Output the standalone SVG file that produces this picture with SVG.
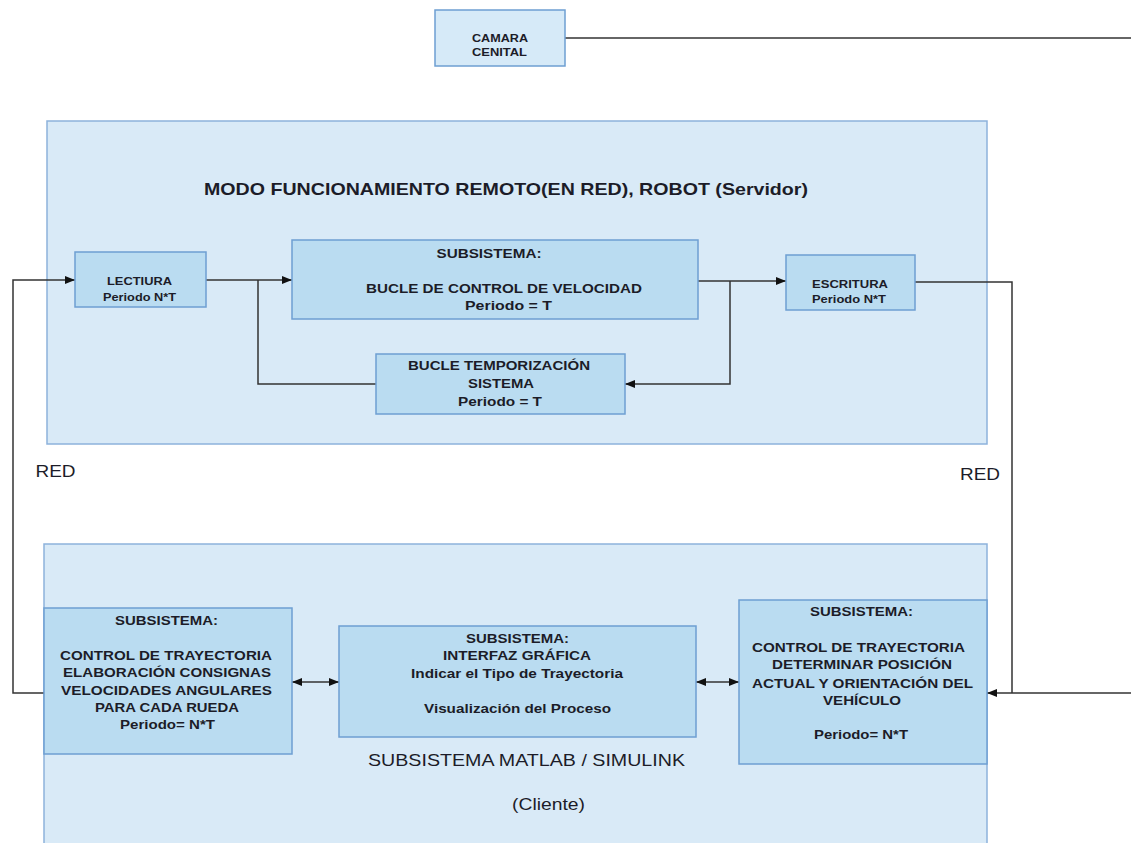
<svg xmlns="http://www.w3.org/2000/svg" width="1131" height="843" viewBox="0 0 1131 843">
  <style>
    .container { fill: #d9eaf7; stroke: #8db2dc; stroke-width: 1.5; }
    .box { fill: #badcf1; stroke: #6e9fd2; stroke-width: 1.5; }
    .t { font-family: "Liberation Sans", Arial, sans-serif; fill: #1c1c28; text-anchor: middle; }
    .b { font-weight: bold; }
    .wire { fill: none; stroke: #333; stroke-width: 1.5; }
  </style>
  <defs>
    <marker id="arrow" viewBox="0 0 10 10" refX="10" refY="5" markerWidth="10" markerHeight="10" markerUnits="userSpaceOnUse" orient="auto-start-reverse">
      <path d="M0,1 L10,5 L0,9 Z" fill="#111"/>
    </marker>
  </defs>

  <rect width="1131" height="843" fill="#ffffff"/>

  <!-- containers -->
  <g id="servidor">
    <rect class="container" x="47" y="121" width="940" height="323"/>
    <text class="t b" x="506" y="195" font-size="16.5" textLength="604" lengthAdjust="spacingAndGlyphs">MODO FUNCIONAMIENTO REMOTO(EN RED), ROBOT (Servidor)</text>
  </g>
  <g id="cliente">
    <rect class="container" x="44" y="544" width="943" height="310"/>
    <text class="t" x="526.5" y="766" font-size="16.5" textLength="317" lengthAdjust="spacingAndGlyphs">SUBSISTEMA MATLAB / SIMULINK</text>
    <text class="t" x="548.5" y="810" font-size="16.5" textLength="73" lengthAdjust="spacingAndGlyphs">(Cliente)</text>
  </g>

  <!-- connectors -->
  <g id="connectors">
    <path class="wire" d="M565,38 H1131"/>
    <path class="wire" d="M44,693 H13 V280 H75" marker-end="url(#arrow)"/>
    <path class="wire" d="M206,280 H292" marker-end="url(#arrow)"/>
    <path class="wire" d="M258,280 V384 H376"/>
    <path class="wire" d="M698,281 H786" marker-end="url(#arrow)"/>
    <path class="wire" d="M730,281 V384 H625" marker-end="url(#arrow)"/>
    <path class="wire" d="M915,282 H1012 V693"/>
    <path class="wire" d="M1131,693 H987" marker-end="url(#arrow)"/>
    <path class="wire" d="M292,682 H339" marker-start="url(#arrow)" marker-end="url(#arrow)"/>
    <path class="wire" d="M696,682 H739" marker-start="url(#arrow)" marker-end="url(#arrow)"/>
  </g>

  <!-- network labels -->
  <text class="t" x="55.5" y="477" font-size="16" textLength="40" lengthAdjust="spacingAndGlyphs">RED</text>
  <text class="t" x="980" y="480" font-size="16" textLength="40" lengthAdjust="spacingAndGlyphs">RED</text>

  <!-- nodes -->
  <g id="camara">
    <rect class="box" x="435" y="10" width="130" height="56" style="fill:#d6eaf8"/>
    <text class="t b" x="500" y="42" font-size="11.5" textLength="56" lengthAdjust="spacingAndGlyphs">CAMARA</text>
    <text class="t b" x="499.5" y="56" font-size="11.5" textLength="55" lengthAdjust="spacingAndGlyphs">CENITAL</text>
  </g>

  <g id="lectiura">
    <rect class="box" x="75" y="252" width="131" height="55"/>
    <text class="t b" x="139.5" y="285" font-size="11.5" textLength="65" lengthAdjust="spacingAndGlyphs">LECTIURA</text>
    <text class="t b" x="139.5" y="301" font-size="11.5" textLength="73" lengthAdjust="spacingAndGlyphs">Periodo N*T</text>
  </g>

  <g id="bucle-velocidad">
    <rect class="box" x="292" y="240" width="406" height="79"/>
    <text class="t b" x="489" y="258" font-size="13.5" textLength="105" lengthAdjust="spacingAndGlyphs">SUBSISTEMA:</text>
    <text class="t b" x="504" y="293" font-size="13.5" textLength="276" lengthAdjust="spacingAndGlyphs">BUCLE DE CONTROL DE VELOCIDAD</text>
    <text class="t b" x="508.5" y="310" font-size="13.5" textLength="87" lengthAdjust="spacingAndGlyphs">Periodo =  T</text>
  </g>

  <g id="escritura">
    <rect class="box" x="786" y="255" width="129" height="55"/>
    <text class="t b" x="850" y="288" font-size="11.5" textLength="76" lengthAdjust="spacingAndGlyphs">ESCRITURA</text>
    <text class="t b" x="849" y="303" font-size="11.5" textLength="74" lengthAdjust="spacingAndGlyphs">Periodo N*T</text>
  </g>

  <g id="bucle-temporizacion">
    <rect class="box" x="376" y="354" width="249" height="60"/>
    <text class="t b" x="499" y="370" font-size="13.5" textLength="182" lengthAdjust="spacingAndGlyphs">BUCLE TEMPORIZACIÓN</text>
    <text class="t b" x="501" y="388" font-size="13.5" textLength="66" lengthAdjust="spacingAndGlyphs">SISTEMA</text>
    <text class="t b" x="500" y="406" font-size="13.5" textLength="84" lengthAdjust="spacingAndGlyphs">Periodo = T</text>
  </g>

  <g id="control-consignas">
    <rect class="box" x="44" y="608" width="248" height="146"/>
    <text class="t b" x="166.5" y="625" font-size="13" textLength="103" lengthAdjust="spacingAndGlyphs">SUBSISTEMA:</text>
    <text class="t b" x="166" y="660" font-size="13" textLength="212" lengthAdjust="spacingAndGlyphs">CONTROL DE TRAYECTORIA</text>
    <text class="t b" x="167" y="677" font-size="13" textLength="208" lengthAdjust="spacingAndGlyphs">ELABORACIÓN CONSIGNAS</text>
    <text class="t b" x="166.5" y="695" font-size="13" textLength="211" lengthAdjust="spacingAndGlyphs">VELOCIDADES ANGULARES</text>
    <text class="t b" x="167" y="712" font-size="13" textLength="144" lengthAdjust="spacingAndGlyphs">PARA CADA RUEDA</text>
    <text class="t b" x="167.5" y="729" font-size="13" textLength="95" lengthAdjust="spacingAndGlyphs">Periodo= N*T</text>
  </g>

  <g id="interfaz">
    <rect class="box" x="339" y="626" width="357" height="111"/>
    <text class="t b" x="517.5" y="643" font-size="13" textLength="103" lengthAdjust="spacingAndGlyphs">SUBSISTEMA:</text>
    <text class="t b" x="517" y="660" font-size="13" textLength="148" lengthAdjust="spacingAndGlyphs">INTERFAZ GRÁFICA</text>
    <text class="t b" x="517" y="678" font-size="13" textLength="212" lengthAdjust="spacingAndGlyphs">Indicar el Tipo de Trayectoria</text>
    <text class="t b" x="517.5" y="713" font-size="13" textLength="187" lengthAdjust="spacingAndGlyphs">Visualización del Proceso</text>
  </g>

  <g id="control-posicion">
    <rect class="box" x="739" y="600" width="248" height="164"/>
    <text class="t b" x="861.5" y="616" font-size="13" textLength="103" lengthAdjust="spacingAndGlyphs">SUBSISTEMA:</text>
    <text class="t b" x="858.5" y="652" font-size="13" textLength="213" lengthAdjust="spacingAndGlyphs">CONTROL DE TRAYECTORIA</text>
    <text class="t b" x="862" y="669" font-size="13" textLength="180" lengthAdjust="spacingAndGlyphs">DETERMINAR POSICIÓN</text>
    <text class="t b" x="862.5" y="688" font-size="13" textLength="221" lengthAdjust="spacingAndGlyphs">ACTUAL Y ORIENTACIÓN DEL</text>
    <text class="t b" x="862" y="705" font-size="13" textLength="78" lengthAdjust="spacingAndGlyphs">VEHÍCULO</text>
    <text class="t b" x="861" y="739" font-size="13" textLength="94" lengthAdjust="spacingAndGlyphs">Periodo= N*T</text>
  </g>
</svg>
